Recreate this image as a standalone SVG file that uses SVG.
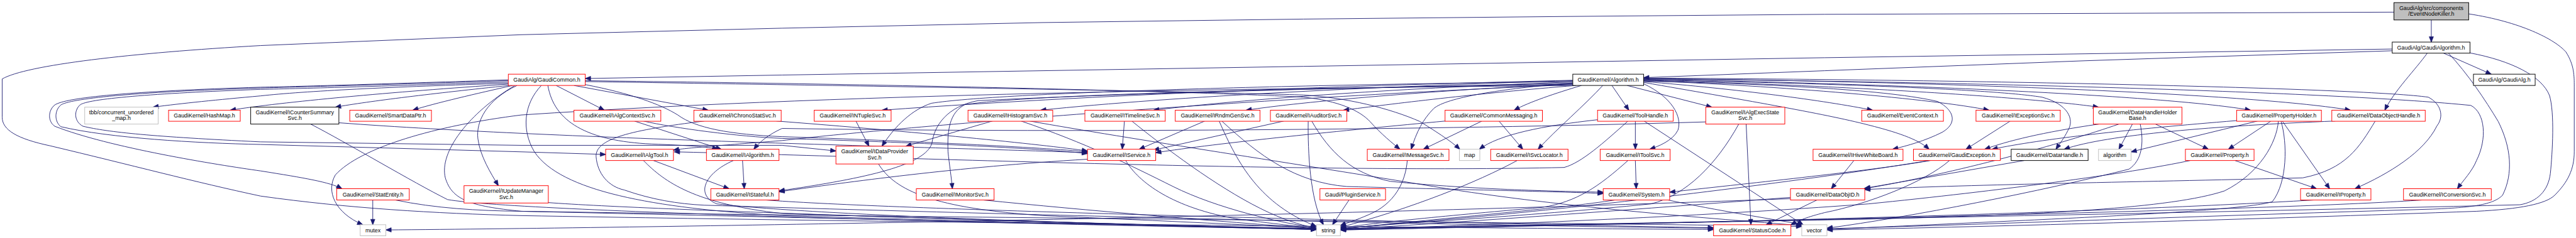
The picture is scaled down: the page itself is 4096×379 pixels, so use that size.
<svg xmlns="http://www.w3.org/2000/svg" width="4096" height="379" viewBox="0 0 4096 379">
<style>
.e path{fill:none;stroke:#191970;stroke-width:1.3;marker-end:url(#ah)}
.r rect{fill:#fff;stroke:#ff0000;stroke-width:1.4}
.k rect{fill:#fff;stroke:#000;stroke-width:1.4}
.g rect{fill:#fff;stroke:#bfbfbf;stroke-width:1.4}
.root rect{fill:#bfbfbf;stroke:#000;stroke-width:1.4}
text{font-family:"Liberation Sans",Arial,Helvetica,sans-serif;font-size:12.9px;fill:#000;text-anchor:middle}
</style>
<defs>
<marker id="ah" markerUnits="userSpaceOnUse" markerWidth="14" markerHeight="11" refX="12.5" refY="5" orient="auto" overflow="visible">
<path d="M0,0 L13,5 L0,10 z" fill="#191970" stroke="#191970" stroke-width="1"/>
</marker>
</defs>
<rect width="4096" height="379" fill="#fff"/>
<g transform="scale(0.69084)">
<g id="edges" class="e">
<path d="M5596,46 L5596,97"/>
<path d="M5510,28 L4800,31 L4200,33 L3600,38 L3000,44 L2400,52 L1800,65 L1200,80 L600,105 C300,122 60,150 5,182 L5,270 C5,300 40,320 115,336 C300,380 450,420 600,452 C800,480 1000,492 1200,497 C2200,515 3400,526 3944,529"/>
<path d="M5682,32 C5800,50 5880,90 5906,120 C5925,150 5925,175 5925,200 L5925,350 C5925,390 5910,420 5880,450 C5860,470 5800,482 5700,487 C5200,505 4600,522 4205,530"/>
<path d="M5623,122 L5734,171"/>
<path d="M5587,122 C5560,160 5510,210 5489,254"/>
<path d="M5506,113 L4800,124 L4200,133 L3600,143 L3000,153 L2400,163 L1800,173 L1347,181"/>
<path d="M5506,117 L4800,140 L4200,163 L3783,179"/>
<path d="M5635,122 C5680,170 5720,230 5750,280 C5780,340 5785,400 5760,450 C5740,470 5700,478 5600,482 C5000,500 4500,520 4205,527"/>
<path d="M5685,122 C5780,140 5850,175 5868,220 C5880,260 5875,350 5870,400 C5865,440 5840,465 5800,472 C5000,492 4000,510 3085,527"/>
<path d="M1170,192 C900,200 700,210 600,221 C500,230 420,238 352,247"/>
<path d="M1170,194 C900,212 650,235 530,254"/>
<path d="M1172,197 C1000,215 850,233 772,247"/>
<path d="M1180,197 C1100,215 1000,238 950,254"/>
<path d="M1280,197 L1391,254"/>
<path d="M1321,197 L1630,254"/>
<path d="M1261,197 C1275,280 1350,325 1500,332 C1580,335 1630,338 1652,344"/>
<path d="M1170,186 C900,195 700,200 600,203 C300,212 160,228 140,242 C125,255 125,280 140,292 C250,318 450,330 600,333 L1200,350 L1394,356"/>
<path d="M1170,189 C900,198 700,204 600,206 C350,215 200,228 184,242 C170,255 170,280 191,291 C250,305 350,315 600,327 L1200,335 L1800,335 L1924,348"/>
<path d="M1170,184 C900,193 700,199 600,201 C300,210 150,225 126,242 C110,255 110,280 126,291 C250,340 500,380 600,394 C700,410 760,420 787,435"/>
<path d="M1190,197 C1120,230 1095,280 1100,320 C1105,360 1130,400 1147,428"/>
<path d="M1347,195 C1450,215 1520,240 1560,265 C1600,295 1680,310 1800,315 C2100,325 2400,340 2503,350"/>
<path d="M1347,188 C2000,198 2800,212 3000,219 C3100,225 3200,250 3268,280 C3300,300 3340,325 3360,344"/>
<path d="M1347,186 C2200,196 2850,215 3000,224 C3080,232 3130,255 3153,280 C3180,310 3205,330 3222,344"/>
<path d="M1246,197 C1205,240 1200,300 1230,350 C1290,440 1500,480 1800,497 C2300,512 2800,522 3030,527"/>
<path d="M1185,197 C1080,260 1010,350 1025,410 C1040,460 1080,475 1200,487 C2000,500 3500,512 4147,522"/>
<path d="M3710,197 L3749,254"/>
<path d="M3745,197 L3940,247"/>
<path d="M3783,193 C3850,225 3872,270 3862,300 C3850,325 3815,338 3797,344"/>
<path d="M3783,188 C4000,205 4200,232 4310,254"/>
<path d="M3783,186 C4100,198 4450,228 4578,254"/>
<path d="M3783,185 C4300,198 4700,228 4830,247"/>
<path d="M3783,183 C4400,193 5000,222 5180,254"/>
<path d="M3783,181 C4500,188 5200,218 5410,254"/>
<path d="M3783,180 C4600,184 5450,204 5589,224 C5620,240 5625,270 5609,290 C5580,350 5500,400 5420,435"/>
<path d="M3783,182 C4600,189 5400,214 5687,243 C5720,260 5725,320 5700,370 C5690,395 5670,415 5656,435"/>
<path d="M3783,184 C4300,194 4600,208 4700,224 C4760,240 4775,275 4760,300 C4750,320 4740,332 4732,344"/>
<path d="M3783,190 C4000,228 4200,262 4300,288 C4380,308 4420,325 4440,344"/>
<path d="M3783,187 C4100,194 4350,208 4460,234 C4500,255 4505,285 4470,305 C4430,325 4390,336 4356,344"/>
<path d="M3620,192 C3000,205 2600,215 2251,232 C2180,245 2150,290 2145,330 C2130,380 2000,410 1793,440"/>
<path d="M3620,188 C3000,195 2300,213 2144,238 C2100,252 2060,290 2030,337"/>
<path d="M3620,194 C3000,205 2400,215 2221,241 C2185,260 2180,300 2182,350 C2185,380 2190,410 2192,435"/>
<path d="M3620,185 C3200,195 2600,213 2030,254"/>
<path d="M3620,186 C3200,198 2700,222 2395,254"/>
<path d="M3620,189 C3300,200 2900,224 2655,254"/>
<path d="M3625,193 C3300,208 3000,234 2868,254"/>
<path d="M3628,197 C3400,215 3200,240 3092,254"/>
<path d="M3640,197 C3580,215 3520,235 3485,254"/>
<path d="M3620,191 C3450,205 3330,225 3300,250 C3275,275 3260,305 3248,344"/>
<path d="M3689,197 C3650,240 3580,300 3540,344"/>
<path d="M3620,195 C2800,230 2000,300 1800,324 C1650,336 1580,341 1550,346"/>
<path d="M3625,197 C3000,203 2000,212 1200,265 C1000,290 830,340 772,403 C750,440 770,490 835,518"/>
<path d="M780,283 C1300,322 2200,340 2503,352"/>
<path d="M715,286 C800,330 950,420 1030,460 C1200,490 2500,520 3030,528"/>
<path d="M1460,279 L1660,344"/>
<path d="M1481,279 C1550,295 1700,315 1800,319 C2100,328 2400,342 2503,354"/>
<path d="M1787,279 C2100,303 2400,333 2503,348"/>
<path d="M1621,279 C1450,300 1370,320 1372,361 C1375,400 1400,430 1437,438 C1500,460 1560,470 1621,473 C2500,500 3400,520 3944,526"/>
<path d="M1970,279 L2000,337"/>
<path d="M2284,279 L2085,337"/>
<path d="M2350,279 C2500,330 2600,380 2700,430 C2800,480 2950,515 3030,525"/>
<path d="M2370,279 C2600,320 3000,380 3300,430 C3600,480 4000,508 4147,520"/>
<path d="M2588,279 L2583,344"/>
<path d="M2605,279 C2680,340 2800,430 2900,480 C2960,510 3000,520 3030,526"/>
<path d="M2773,279 L2622,344"/>
<path d="M2806,279 C2850,380 2900,470 3030,522"/>
<path d="M2812,279 C2900,360 2980,420 3100,430 C3400,438 3600,442 3690,446"/>
<path d="M2955,279 L2655,346"/>
<path d="M3011,279 C3010,350 3015,460 3046,518"/>
<path d="M3019,279 C3060,350 3110,400 3200,418 C3400,438 3600,441 3690,443"/>
<path d="M3411,279 L3276,344"/>
<path d="M3450,279 L3505,344"/>
<path d="M3327,279 C3100,300 2800,330 2660,352"/>
<path d="M3764,279 L3764,344"/>
<path d="M3784,279 L4150,518"/>
<path d="M3747,279 C3690,330 3640,375 3600,386 C3000,400 2000,360 1552,350"/>
<path d="M3677,276 C3550,290 3450,310 3405,344"/>
<path d="M4019,286 L4030,518"/>
<path d="M4002,286 C3950,380 3880,450 3800,470 C3500,500 3200,515 3085,527"/>
<path d="M3926,281 C3300,300 2400,306 1800,296 C1770,310 1750,325 1735,344"/>
<path d="M4627,279 L4525,344"/>
<path d="M4908,286 L4877,344"/>
<path d="M4961,286 L5083,344"/>
<path d="M4877,286 C4750,330 4500,400 4290,435"/>
<path d="M4831,286 C4700,305 4620,325 4568,344"/>
<path d="M4926,286 C4935,330 4930,370 4900,390 C4700,440 4400,500 4205,526"/>
<path d="M5227,279 L5129,344"/>
<path d="M5253,279 L5362,435"/>
<path d="M5196,279 L4905,350"/>
<path d="M5148,278 C4900,298 4700,320 4585,344"/>
<path d="M5244,279 C5240,330 5200,400 5120,440 C5000,480 4700,495 4300,505 C3800,515 3300,522 3085,529"/>
<path d="M5250,279 C5265,330 5265,420 5230,465 C5150,490 4600,510 4205,529"/>
<path d="M5375,279 C5100,290 4850,310 4751,344"/>
<path d="M5467,279 C5430,340 5400,390 5300,410 C4900,420 4500,426 4292,437"/>
<path d="M1504,370 L1678,435"/>
<path d="M1481,370 C1530,420 1600,470 1800,492 C2400,512 2800,522 3030,528"/>
<path d="M1709,370 L1713,435"/>
<path d="M1688,370 C1620,400 1600,450 1650,470 C1900,498 2600,518 3030,529"/>
<path d="M2022,378 C2060,440 2150,480 2400,497 C2700,510 2900,520 3030,526"/>
<path d="M2503,367 C2200,385 1950,420 1793,442"/>
<path d="M2591,370 C2620,420 2700,480 2850,505 C2950,518 3000,523 3030,527"/>
<path d="M3239,370 C3235,420 3210,470 3150,495 C3120,508 3100,514 3085,520"/>
<path d="M3492,370 C3400,420 3250,480 3085,524"/>
<path d="M3764,370 L3766,435"/>
<path d="M3747,370 C3680,430 3630,465 3550,478 C3300,500 3150,515 3085,526"/>
<path d="M4267,370 L4215,435"/>
<path d="M4443,370 C4300,395 4000,425 3843,443"/>
<path d="M4440,370 C4200,410 3800,460 3500,490 C3300,510 3150,520 3085,528"/>
<path d="M4487,370 C4430,420 4300,470 4200,490 C4160,500 4140,508 4122,518"/>
<path d="M4659,370 L4292,434"/>
<path d="M5144,370 L5332,435"/>
<path d="M5041,370 C4900,400 4600,440 4300,470 C3900,500 3400,520 3085,529"/>
<path d="M858,461 L858,518"/>
<path d="M910,461 C1000,480 1100,486 1200,487 C2000,505 2700,522 3030,529"/>
<path d="M1262,467 C1500,485 2500,515 3030,529"/>
<path d="M1763,461 C2000,480 3000,508 3944,525"/>
<path d="M2263,461 C2500,485 2800,510 3030,527"/>
<path d="M3105,461 L3067,518"/>
<path d="M3839,461 C3950,485 4080,505 4150,518"/>
<path d="M3717,461 C3600,480 3300,505 3085,528"/>
<path d="M4182,461 L4065,518"/>
<path d="M4121,455 C3800,480 3400,510 3085,529"/>
<path d="M5326,461 C5000,480 4400,505 3085,530"/>
<path d="M5575,461 C5300,480 4500,500 3085,530"/>
<path d="M4121,458 C3000,500 1500,525 888,530"/>
</g>
<g id="n_enk" class="root"><rect x="5510" y="6" width="172" height="40"/><text x="5596" y="22.8">GaudiAlg/src/components</text><text x="5596" y="36.8">/EventNodeKiller.h</text></g>
<g id="n_galgo" class="k"><rect x="5506" y="97" width="179" height="25.5"/><text x="5595.5" y="114.3">GaudiAlg/GaudiAlgorithm.h</text></g>
<g id="n_gcommon" class="r"><rect x="1170" y="171" width="177" height="26"/><text x="1258.5" y="188.6">GaudiAlg/GaudiCommon.h</text></g>
<g id="n_algorithm" class="k"><rect x="3620" y="171" width="163" height="26"/><text x="3701.5" y="188.6">GaudiKernel/Algorithm.h</text></g>
<g id="n_gaudialg" class="k"><rect x="5693" y="171" width="142" height="26"/><text x="5764" y="188.6">GaudiAlg/GaudiAlg.h</text></g>
<g id="n_tbb" class="g"><rect x="195" y="247" width="169" height="39"/><text x="279.5" y="263">tbb/concurrent_unordered</text><text x="279.5" y="277">_map.h</text></g>
<g id="n_hashmap" class="r"><rect x="388" y="254" width="165" height="25.5"/><text x="470.5" y="271.3">GaudiKernel/HashMap.h</text></g>
<g id="n_icounter" class="k"><rect x="577" y="247" width="203" height="39"/><text x="678.5" y="263">GaudiKernel/ICounterSummary</text><text x="678.5" y="277">Svc.h</text></g>
<g id="n_smartdataptr" class="r"><rect x="805" y="254" width="188" height="25.5"/><text x="899" y="271.3">GaudiKernel/SmartDataPtr.h</text></g>
<g id="n_ialgcontext" class="r"><rect x="1321" y="254" width="200" height="25.5"/><text x="1421" y="271.3">GaudiKernel/IAlgContextSvc.h</text></g>
<g id="n_ichrono" class="r"><rect x="1597" y="254" width="201" height="25.5"/><text x="1697.5" y="271.3">GaudiKernel/IChronoStatSvc.h</text></g>
<g id="n_intuple" class="r"><rect x="1874" y="254" width="177" height="25.5"/><text x="1962.5" y="271.3">GaudiKernel/INTupleSvc.h</text></g>
<g id="n_ihisto" class="r"><rect x="2228" y="254" width="195" height="25.5"/><text x="2325.5" y="271.3">GaudiKernel/IHistogramSvc.h</text></g>
<g id="n_itimeline" class="r"><rect x="2497" y="254" width="185" height="25.5"/><text x="2589.5" y="271.3">GaudiKernel/ITimelineSvc.h</text></g>
<g id="n_irndm" class="r"><rect x="2705" y="254" width="195" height="25.5"/><text x="2802.5" y="271.3">GaudiKernel/IRndmGenSvc.h</text></g>
<g id="n_iauditor" class="r"><rect x="2924" y="254" width="176" height="25.5"/><text x="3012" y="271.3">GaudiKernel/IAuditorSvc.h</text></g>
<g id="n_commonmsg" class="r"><rect x="3326" y="254" width="224" height="25.5"/><text x="3438" y="271.3">GaudiKernel/CommonMessaging.h</text></g>
<g id="n_toolhandle" class="r"><rect x="3677" y="254" width="174" height="25.5"/><text x="3764" y="271.3">GaudiKernel/ToolHandle.h</text></g>
<g id="n_ialgexec" class="r"><rect x="3926" y="247" width="182" height="39"/><text x="4017" y="263">GaudiKernel/IAlgExecState</text><text x="4017" y="277">Svc.h</text></g>
<g id="n_eventcontext" class="r"><rect x="4285" y="254" width="188" height="25.5"/><text x="4379" y="271.3">GaudiKernel/EventContext.h</text></g>
<g id="n_iexception" class="r"><rect x="4548" y="254" width="194" height="25.5"/><text x="4645" y="271.3">GaudiKernel/IExceptionSvc.h</text></g>
<g id="n_dhhb" class="r"><rect x="4818" y="247" width="204" height="39"/><text x="4920" y="263">GaudiKernel/DataHandleHolder</text><text x="4920" y="277">Base.h</text></g>
<g id="n_propholder" class="r"><rect x="5148" y="254" width="195" height="25.5"/><text x="5245.5" y="271.3">GaudiKernel/PropertyHolder.h</text></g>
<g id="n_doh" class="r"><rect x="5367" y="254" width="215" height="25.5"/><text x="5474.5" y="271.3">GaudiKernel/DataObjectHandle.h</text></g>
<g id="n_ialgtool" class="r"><rect x="1394" y="344" width="156" height="26"/><text x="1472" y="361.6">GaudiKernel/IAlgTool.h</text></g>
<g id="n_ialgorithm" class="r"><rect x="1626" y="344" width="167" height="26"/><text x="1709.5" y="361.6">GaudiKernel/IAlgorithm.h</text></g>
<g id="n_idataprov" class="r"><rect x="1924" y="337" width="178" height="41"/><text x="2013" y="353">GaudiKernel/IDataProvider</text><text x="2013" y="368">Svc.h</text></g>
<g id="n_iservice" class="r"><rect x="2503" y="344" width="157" height="26"/><text x="2581.5" y="361.6">GaudiKernel/IService.h</text></g>
<g id="n_imessage" class="r"><rect x="3147" y="344" width="188" height="26"/><text x="3241" y="361.6">GaudiKernel/IMessageSvc.h</text></g>
<g id="n_map" class="g"><rect x="3359" y="344" width="47" height="26"/><text x="3382.5" y="361.6">map</text></g>
<g id="n_isvcloc" class="r"><rect x="3431" y="344" width="178" height="26"/><text x="3520" y="361.6">GaudiKernel/ISvcLocator.h</text></g>
<g id="n_itoolsvc" class="r"><rect x="3683" y="344" width="161" height="26"/><text x="3763.5" y="361.6">GaudiKernel/IToolSvc.h</text></g>
<g id="n_ihive" class="r"><rect x="4173" y="344" width="207" height="26"/><text x="4276.5" y="361.6">GaudiKernel/IHiveWhiteBoard.h</text></g>
<g id="n_gaudiexc" class="r"><rect x="4404" y="344" width="200" height="26"/><text x="4504" y="361.6">GaudiKernel/GaudiException.h</text></g>
<g id="n_datahandle" class="k"><rect x="4629" y="344" width="177" height="26"/><text x="4717.5" y="361.6">GaudiKernel/DataHandle.h</text></g>
<g id="n_algorithmstd" class="g"><rect x="4830" y="344" width="75" height="26"/><text x="4867.5" y="361.6">algorithm</text></g>
<g id="n_property" class="r"><rect x="5030" y="344" width="158" height="26"/><text x="5109" y="361.6">GaudiKernel/Property.h</text></g>
<g id="n_statentity" class="r"><rect x="775" y="435" width="167" height="26"/><text x="858.5" y="452.6">GaudiKernel/StatEntity.h</text></g>
<g id="n_iupdate" class="r"><rect x="1068" y="428" width="194" height="40"/><text x="1165" y="444">GaudiKernel/IUpdateManager</text><text x="1165" y="459">Svc.h</text></g>
<g id="n_istateful" class="r"><rect x="1636" y="435" width="157" height="26"/><text x="1714.5" y="452.6">GaudiKernel/IStateful.h</text></g>
<g id="n_imonitor" class="r"><rect x="2109" y="435" width="179" height="26"/><text x="2198.5" y="452.6">GaudiKernel/IMonitorSvc.h</text></g>
<g id="n_plugin" class="r"><rect x="3038" y="435" width="151" height="26"/><text x="3113.5" y="452.6">Gaudi/PluginService.h</text></g>
<g id="n_system" class="r"><rect x="3690" y="435" width="153" height="26"/><text x="3766.5" y="452.6">GaudiKernel/System.h</text></g>
<g id="n_dataobjid" class="r"><rect x="4121" y="435" width="171" height="26"/><text x="4206.5" y="452.6">GaudiKernel/DataObjID.h</text></g>
<g id="n_iproperty" class="r"><rect x="5295" y="435" width="162" height="26"/><text x="5376" y="452.6">GaudiKernel/IProperty.h</text></g>
<g id="n_iconversion" class="r"><rect x="5532" y="435" width="202" height="26"/><text x="5633" y="452.6">GaudiKernel/IConversionSvc.h</text></g>
<g id="n_mutex" class="g"><rect x="829" y="518" width="59" height="25.5"/><text x="858.5" y="535.1">mutex</text></g>
<g id="n_string" class="g"><rect x="3030" y="518" width="55" height="25.5"/><text x="3057.5" y="535.1">string</text></g>
<g id="n_statuscode" class="r"><rect x="3944" y="518" width="178" height="25.5"/><text x="4033" y="535.1">GaudiKernel/StatusCode.h</text></g>
<g id="n_vector" class="g"><rect x="4147" y="518" width="58" height="25.5"/><text x="4176" y="535.1">vector</text></g>
</g>
</svg>
